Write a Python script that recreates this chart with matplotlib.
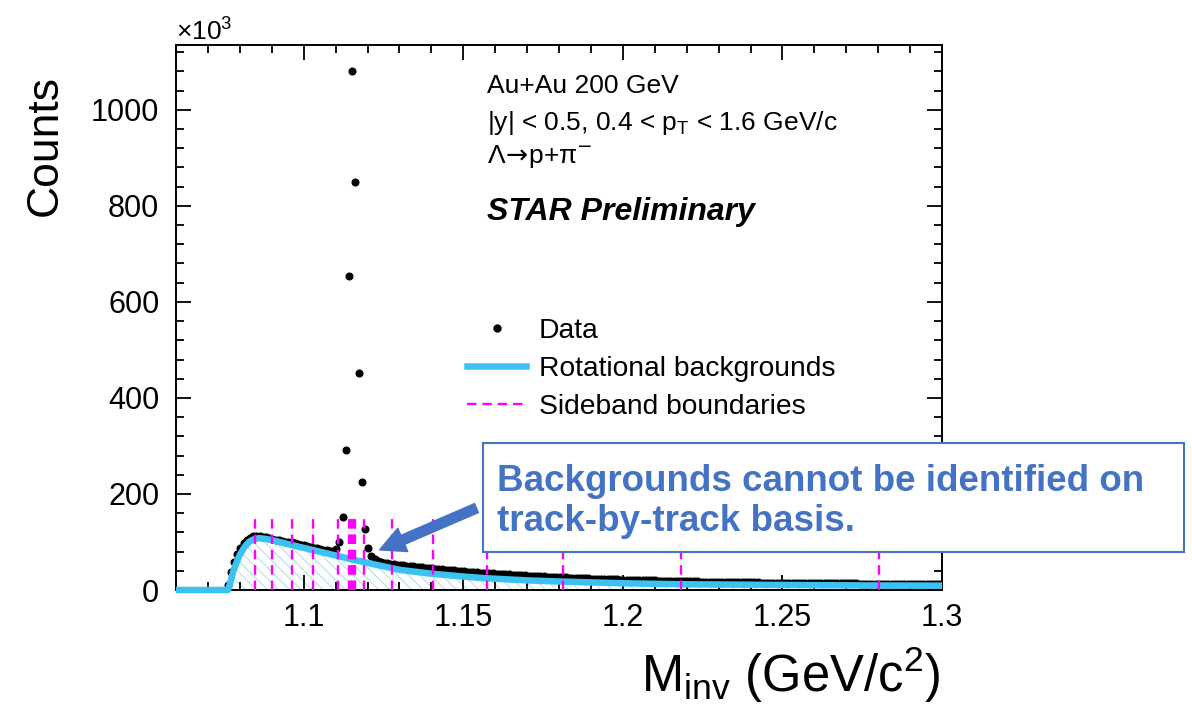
import numpy as np
import matplotlib
matplotlib.use("Agg")
import matplotlib.pyplot as plt
from matplotlib.lines import Line2D
from matplotlib.patches import Rectangle, FancyArrowPatch

plt.rcParams['font.family'] = ['Liberation Sans', 'DejaVu Sans']
plt.rcParams['mathtext.fontset'] = 'custom'
plt.rcParams['mathtext.rm'] = 'Liberation Sans'
plt.rcParams['mathtext.it'] = 'Liberation Sans:italic'
plt.rcParams['mathtext.bf'] = 'Liberation Sans:bold'
plt.rcParams['hatch.linewidth'] = 0.7

# data points: counts (x10^3) in 1 MeV bins, first bin centre 1.0762 GeV
BIN0 = 1.0762
BIN_W = 0.001
counts_peak = [10, 38, 58, 74, 87, 97, 104, 109, 111.5, 112.5,
               112, 111, 109.5, 108, 106.5, 105, 103.5, 102, 100.5, 99.5,
               99, 97.5, 96, 94.5, 93, 91.5, 90, 88.5, 87, 85.5,
               84, 82.5, 81, 81, 85, 100, 152, 292, 654, 1081,
               850, 452, 225, 127, 87, 71, 64, 60, 58]
counts_tail = [56.5, 55.6, 54.8, 53.9, 53.1, 52.3, 51.5, 50.7, 50.0, 49.2,
               48.5, 47.8, 47.1, 46.4, 45.7, 45.0, 44.4, 43.7, 43.1, 42.5,
               41.9, 41.3, 40.7, 40.1, 39.6, 39.0, 38.5, 38.0, 37.4, 36.9,
               36.4, 36.0, 35.5, 35.0, 34.5, 34.1, 33.6, 33.2, 32.8, 32.4,
               32.0, 31.6, 31.2, 30.8, 30.4, 30.0, 29.7, 29.3, 29.0, 28.6,
               28.3, 27.9, 27.6, 27.3, 27.0, 26.7, 26.4, 26.1, 25.8, 25.5,
               25.2, 25.0, 24.7, 24.4, 24.2, 23.9, 23.7, 23.4, 23.2, 22.9,
               22.7, 22.5, 22.3, 22.1, 21.8, 21.6, 21.4, 21.2, 21.0, 20.8,
               20.7, 20.5, 20.3, 20.1, 19.9, 19.8, 19.6, 19.4, 19.3, 19.1,
               19.0, 18.8, 18.6, 18.5, 18.4, 18.2, 18.1, 17.9, 17.8, 17.7,
               17.6, 17.4, 17.3, 17.2, 17.1, 16.9, 16.8, 16.7, 16.6, 16.5,
               16.4, 16.3, 16.2, 16.1, 16.0, 15.9, 15.8, 15.7, 15.6, 15.5,
               15.5, 15.4, 15.3, 15.2, 15.1, 15.0, 15.0, 14.9, 14.8, 14.7,
               14.7, 14.6, 14.5, 14.5, 14.4, 14.3, 14.3, 14.2, 14.1, 14.1,
               14.0, 14.0, 13.9, 13.9, 13.8, 13.7, 13.7, 13.6, 13.6, 13.5,
               13.5, 13.4, 13.4, 13.4, 13.3, 13.3, 13.2, 13.2, 13.1, 13.1,
               13.1, 13.0, 13.0, 12.9, 12.9, 12.9, 12.8, 12.8, 12.8, 12.7,
               12.7, 12.7, 12.6, 12.6, 12.6]
counts = np.array(counts_peak + counts_tail)
m_data = BIN0 + BIN_W * np.arange(len(counts))

# rotational background
bkg_m = [1.0600, 1.0763, 1.0772, 1.0780, 1.0790, 1.0800, 1.0815, 1.0830, 1.0845,
         1.0860, 1.0880, 1.0900, 1.0960, 1.1030, 1.1090, 1.1150, 1.1210, 1.1300,
         1.1400, 1.1500, 1.1570, 1.1700, 1.1810, 1.2000, 1.2180, 1.2500, 1.2750, 1.3000]
bkg_k = [0, 0, 20, 40, 58, 73, 90, 101, 106,
         108, 106.5, 104, 94, 83, 73.5, 64, 55, 42,
         34, 28, 24.5, 20, 17.5, 14, 12, 10.5, 9.5, 9]

# sideband boundaries
sideband = [1.0847, 1.0901, 1.0963, 1.1029, 1.1108, 1.1142, 1.1147, 1.1152,
            1.1157, 1.1162, 1.1189, 1.1277, 1.1405, 1.1574, 1.1812, 1.2182, 1.2802]
sideband_top = 148

W, H = 1192, 708
fig = plt.figure(figsize=(W / 100, H / 100), dpi=100)
ax = fig.add_axes([176 / W, 1 - 590 / H, (942 - 176) / W, (590 - 45) / H])

cyan = '#3cc2f2'
ax.fill_between(bkg_m, 0, bkg_k, facecolor='none', edgecolor='#a6dcf2',
                hatch='\\\\\\', linewidth=0, zorder=1)
ax.plot(m_data, counts, 'o', color='black', ms=4.8, zorder=3)
ax.plot(bkg_m, bkg_k, color=cyan, lw=4.7, zorder=4, clip_on=False,
        solid_capstyle='butt')
ax.vlines(sideband, 0, sideband_top, colors='#ff00ff', linestyles=(0, (4, 2.5)),
          lw=1.7, zorder=5)

ax.set_xlim(1.06, 1.3)
ax.set_ylim(0, 1135)
ax.set_xticks([1.1, 1.15, 1.2, 1.25, 1.3])
ax.set_xticklabels(['1.1', '1.15', '1.2', '1.25', '1.3'])
ax.set_xticks(np.arange(1.06, 1.3001, 0.01), minor=True)
ax.set_yticks([0, 200, 400, 600, 800, 1000])
ax.set_yticks(np.arange(0, 1135, 40), minor=True)
ax.tick_params(which='both', direction='in', top=True, right=True,
               width=1.3, labelsize=22)
ax.tick_params(which='major', length=11)
ax.tick_params(which='minor', length=5.5)
ax.tick_params(axis='x', pad=9)
ax.tick_params(axis='y', pad=12)
for s in ax.spines.values():
    s.set_linewidth(1.4)

fig.text(176 / W, 1 - 32 / H, '×10$^{3}$', fontsize=19, ha='left', va='center')
fig.text(45 / W, 1 - 75 / H, 'Counts', fontsize=32, rotation=90,
         ha='center', va='top')
fig.text(940 / W, 1 - 692 / H, 'M$_{\\mathrm{inv}}$ (GeV/c$^{2}$)', fontsize=36.5,
         ha='right', va='baseline')

tx = 487 / W
fig.text(tx, 1 - 93 / H, 'Au+Au 200 GeV', fontsize=19, va='baseline')
fig.text(tx, 1 - 130 / H, '|y| < 0.5, 0.4 < p$_{\\mathrm{T}}$ < 1.6 GeV/c',
         fontsize=19, va='baseline')
fig.text(tx, 1 - 163 / H, 'Λ$\\!\\rightarrow\\!$p+π$^{-}$', fontsize=19,
         va='baseline', math_fontfamily='dejavusans')
fig.text(tx, 1 - 220 / H, 'STAR Preliminary', fontsize=23, va='baseline',
         fontweight='bold', fontstyle='italic')

handles = [
    Line2D([], [], ls='none', marker='o', color='black', ms=5),
    Line2D([], [], color=cyan, lw=4.7),
    Line2D([], [], color='#ff00ff', lw=1.7, ls=(0, (4, 2.5))),
]
labels = ['Data', 'Rotational backgrounds', 'Sideband boundaries']
fig.legend(handles, labels, loc='upper left',
           bbox_to_anchor=(467 / W, 1 - 318 / H), frameon=False, fontsize=20.3,
           borderpad=0, borderaxespad=0, labelspacing=0.42, handlelength=2.1,
           handletextpad=0.45)

blue = '#4472c4'
box = Rectangle((483 / W, 1 - 552 / H), (1184 - 483) / W, (552 - 443) / H,
                transform=fig.transFigure, facecolor='white', edgecolor=blue,
                lw=1.5, zorder=10)
fig.patches.append(box)
fig.text(497 / W, 1 - 491 / H, 'Backgrounds cannot be identified on',
         fontsize=26.5, color=blue, fontweight='bold', va='baseline', zorder=11)
fig.text(497 / W, 1 - 531 / H, 'track-by-track basis.',
         fontsize=26.5, color=blue, fontweight='bold', va='baseline', zorder=11)
arrow = FancyArrowPatch((479 / W, 1 - 507 / H), (377 / W, 1 - 551 / H),
                        transform=fig.transFigure, color=blue,
                        arrowstyle='simple,head_length=1.3,head_width=1.3,tail_width=0.5',
                        mutation_scale=14, zorder=10)
fig.patches.append(arrow)

fig.savefig('out.png', dpi=100)
